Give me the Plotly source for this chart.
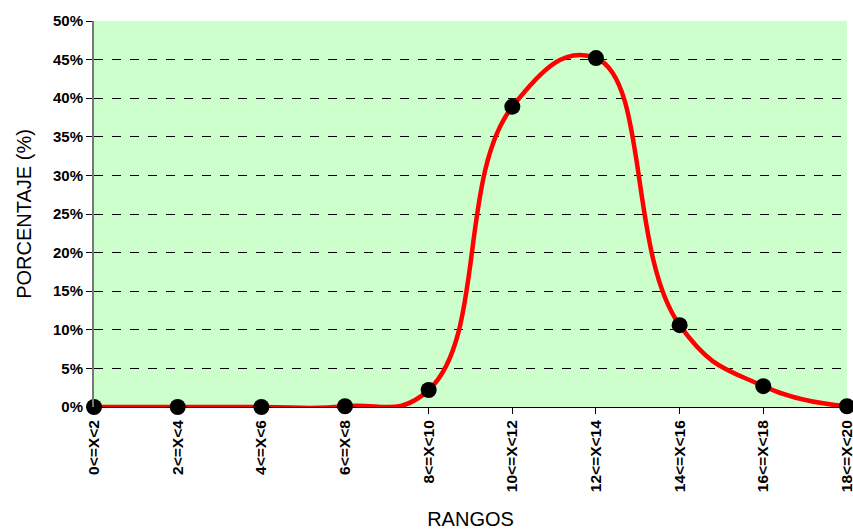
import plotly.graph_objects as go

rangos = ["0<=X<2", "2<=X<4", "4<=X<6", "6<=X<8", "8<=X<10",
          "10<=X<12", "12<=X<14", "14<=X<16", "16<=X<18", "18<=X<20"]
porcentaje = [0.0, 0.0, 0.0, 0.1, 2.2, 38.9, 45.2, 10.6, 2.7, 0.1]
y_ticks = [0, 5, 10, 15, 20, 25, 30, 35, 40, 45, 50]
y_labels = [f"{v}%" for v in y_ticks]

fig = go.Figure()
fig.add_trace(go.Scatter(
    x=list(range(len(rangos))), y=porcentaje, mode="lines+markers",
    line=dict(color="#FF0000", width=4.5, shape="spline", smoothing=1.3),
    marker=dict(color="black", size=16),
    cliponaxis=False, showlegend=False,
))

fig.update_layout(
    width=853, height=530,
    margin=dict(l=94, r=6, t=21, b=123),
    paper_bgcolor="white", plot_bgcolor="#CCFFCC",
    font=dict(family="Liberation Sans, Arial, sans-serif", color="black"),
    xaxis=dict(
        range=[-0.0005, len(rangos) - 1 + 0.0005], tickvals=list(range(len(rangos))), ticktext=rangos,
        tickangle=-90, tickfont=dict(size=15.5, weight="bold"),
        ticklabeloverflow="allow",
        ticks="outside", ticklen=6, tickcolor="black",
        showline=True, linecolor="black", linewidth=1, showgrid=False, zeroline=False,
        automargin=False,
        title=dict(text="RANGOS", font=dict(size=20), standoff=20),
    ),
    yaxis=dict(
        range=[0, 50], tickvals=y_ticks, ticktext=y_labels,
        tickfont=dict(size=15, weight="bold"),
        ticks="outside", ticklen=6, tickcolor="black",
        showline=True, linecolor="#777777", linewidth=2,
        showgrid=True, gridcolor="black", griddash="dash", gridwidth=1, zeroline=False,
        automargin=False,
        title=dict(text="PORCENTAJE (%)", font=dict(size=20), standoff=16),
    ),
)

fig.write_html("out.html", config={"displayModeBar": False},
               post_script="document.body.style.margin='0';document.body.style.overflow='hidden';")
